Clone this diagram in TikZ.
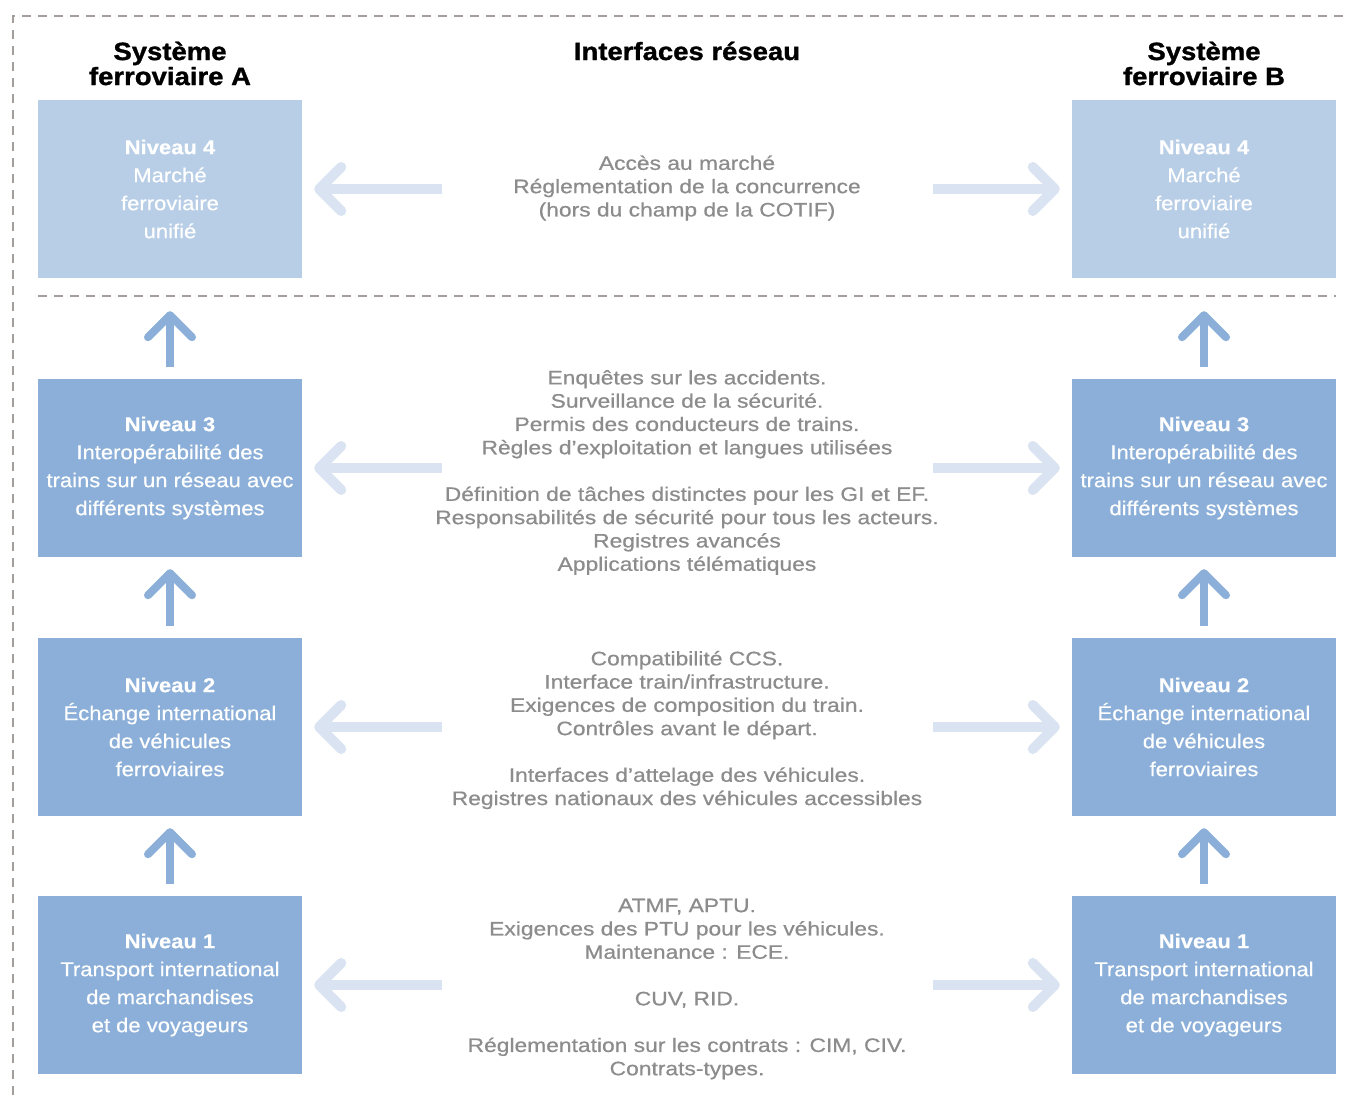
\documentclass[tikz,border=0pt]{standalone}
\usepackage{fontspec}
\setmainfont{Liberation Sans}
\newfontfamily\midfont{Liberation Sans}[FakeStretch=1.17, FakeBold=0.6]
\newfontfamily\boxfont{Liberation Sans}[FakeStretch=1.1, FakeBold=0.4]
\newfontfamily\ttlfont{Liberation Sans}[FakeStretch=1.1, FakeBold=1.2]
\usetikzlibrary{arrows.meta}
\definecolor{boxdark}{HTML}{8BAFD8}
\definecolor{boxlight}{HTML}{B8CEE6}
\definecolor{arrlight}{HTML}{DAE3F1}
\definecolor{txtgray}{HTML}{8C8C8C}
\definecolor{dashgray}{HTML}{A39E9B}
\begin{document}
\begin{tikzpicture}[x=1pt,y=-1pt,
  lvl/.style={minimum width=264pt, minimum height=178pt, inner sep=0pt, text=white, align=center, font=\boxfont\fontsize{20}{28}\selectfont},
  ttl/.style={align=center, inner sep=0pt, font=\ttlfont\fontsize{25}{25}\selectfont\bfseries, text=black},
  mid/.style={align=center, inner sep=0pt, text=txtgray, font=\midfont\fontsize{19.5}{23.3}\selectfont},
  border/.style={draw=dashgray, line width=2pt, dash pattern=on 9pt off 7pt},
  uparr/.style={draw=boxdark, line width=8pt, -{Straight Barb[length=22pt,width=44pt,round]}},
  harr/.style={draw=arrlight, line width=10pt, -{Straight Barb[length=22pt,width=44pt,round]}}]
\useasboundingbox (0,0) rectangle (1352,1095);
\fill[white] (0,0) rectangle (1352,1095);
% frame
\draw[border] (13,1095) -- (13,16) -- (1345,16);
\draw[border] (38,296) -- (1336,296);
% titles
\node[ttl] (tA) at (170,63.5) {Système\\ferroviaire A};
\node[ttl] (tC) at (687,51) {Interfaces réseau};
\node[ttl] (tB) at (1204,63.5) {Système\\ferroviaire B};
% boxes A
\node[lvl, fill=boxlight] (a4) at (170,189) {\textbf{Niveau 4}\\Marché\\ferroviaire\\unifié};
\node[lvl, fill=boxdark] (a3) at (170,468) {\textbf{Niveau 3}\\Interopérabilité des\\trains sur un réseau avec\\différents systèmes};
\node[lvl, fill=boxdark] (a2) at (170,727) {\textbf{Niveau 2}\\Échange international\\de véhicules\\ferroviaires};
\node[lvl, fill=boxdark] (a1) at (170,985) {\textbf{Niveau 1}\\Transport international\\de marchandises\\et de voyageurs};
% boxes B
\node[lvl, fill=boxlight] (b4) at (1204,189) {\textbf{Niveau 4}\\Marché\\ferroviaire\\unifié};
\node[lvl, fill=boxdark] (b3) at (1204,468) {\textbf{Niveau 3}\\Interopérabilité des\\trains sur un réseau avec\\différents systèmes};
\node[lvl, fill=boxdark] (b2) at (1204,727) {\textbf{Niveau 2}\\Échange international\\de véhicules\\ferroviaires};
\node[lvl, fill=boxdark] (b1) at (1204,985) {\textbf{Niveau 1}\\Transport international\\de marchandises\\et de voyageurs};
% middle texts
\node[mid] (m4) at (687,188) {Accès au marché\\Réglementation de la concurrence\\(hors du champ de la COTIF)};
\node[mid] (m3) at (687,472.5) {Enquêtes sur les accidents.\\Surveillance de la sécurité.\\Permis des conducteurs de trains.\\Règles d’exploitation et langues utilisées\\[23.3pt]Définition de tâches distinctes pour les GI et EF.\\Responsabilités de sécurité pour tous les acteurs.\\Registres avancés\\Applications télématiques};
\node[mid] (m2) at (687,730) {Compatibilité CCS.\\Interface train/infrastructure.\\Exigences de composition du train.\\Contrôles avant le départ.\\[23.3pt]Interfaces d’attelage des véhicules.\\Registres nationaux des véhicules accessibles};
\node[mid] (m1) at (687,989) {ATMF, APTU.\\Exigences des PTU pour les véhicules.\\Maintenance : ECE.\\[23.3pt]CUV, RID.\\[23.3pt]Réglementation sur les contrats : CIM, CIV.\\Contrats-types.};
% vertical arrows
\draw[uparr, shorten <=12pt, shorten >=12pt] (a1.north) -- (a2.south);
\draw[uparr, shorten <=12pt, shorten >=12pt] (a2.north) -- (a3.south);
\draw[uparr, shorten <=12pt, shorten >=33pt] (a3.north) -- (a4.south);
\draw[uparr, shorten <=12pt, shorten >=12pt] (b1.north) -- (b2.south);
\draw[uparr, shorten <=12pt, shorten >=12pt] (b2.north) -- (b3.south);
\draw[uparr, shorten <=12pt, shorten >=33pt] (b3.north) -- (b4.south);
% horizontal arrows
\foreach \n in {1,2,3,4}{
  \draw[harr] ([xshift=140pt]a\n.east) -- ([xshift=12pt]a\n.east);
  \draw[harr] ([xshift=-139pt]b\n.west) -- ([xshift=-12pt]b\n.west);
}
\end{tikzpicture}
\end{document}
